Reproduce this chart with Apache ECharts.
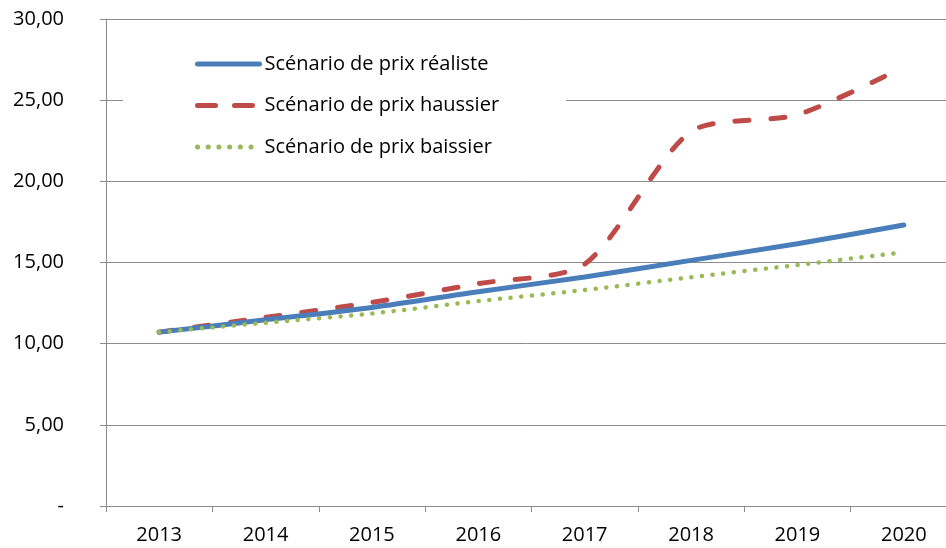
<!DOCTYPE html>
<html>
<head>
<meta charset="utf-8">
<script src="https://cdn.jsdelivr.net/npm/echarts@6/dist/echarts.min.js"></script>
<style>
  html, body { margin: 0; padding: 0; background: #fff; }
  #chart { width: 946px; height: 548px; }
</style>
</head>
<body>
<div id="chart"></div>
<script>
    var years = ['2013', '2014', '2015', '2016', '2017', '2018', '2019', '2020'];
    var realiste = [10.71, 11.47, 12.23, 13.20, 14.11, 15.13, 16.16, 17.31];
    var haussier = [10.71, 11.62, 12.54, 13.70, 14.90, 23.07, 24.10, 27.05];
    var baissier = [10.71, 11.29, 11.86, 12.62, 13.31, 14.09, 14.85, 15.63];
    var yTickLabels = ['-', '5,00', '10,00', '15,00', '20,00', '25,00', '30,00'];
    var seriesNames = ['Scénario de prix réaliste', 'Scénario de prix haussier', 'Scénario de prix baissier'];

    var font = '"Open Sans", "Noto Sans", sans-serif';
    var axisGrey = '#8c8c8c';

    var chart = echarts.init(document.getElementById('chart'));
    var option = {
        animation: false,
        grid: {
            left: 106,
            top: 19,
            width: 851,
            height: 487,
            outerBoundsMode: 'none',
            containLabel: false
        },
        legend: {
            orient: 'vertical',
            left: 123,
            top: 30,
            padding: [24, 67, 10, 72],
            backgroundColor: '#fff',
            itemWidth: 62,
            itemHeight: 18,
            itemGap: 21.5,
            itemStyle: { opacity: 0 },
            lineStyle: { width: 5 },
            textStyle: {
                fontFamily: font,
                fontSize: 20,
                color: '#000'
            },
            data: [
                { name: seriesNames[0] },
                { name: seriesNames[1], lineStyle: { type: [18, 19] } },
                { name: seriesNames[2] }
            ]
        },
        xAxis: {
            type: 'category',
            data: years,
            boundaryGap: true,
            axisLine: { lineStyle: { color: axisGrey, width: 1 } },
            axisTick: { show: true, length: 6, lineStyle: { color: axisGrey } },
            axisLabel: {
                margin: 19,
                fontFamily: font,
                fontSize: 20,
                color: '#000'
            },
            splitLine: { show: false }
        },
        yAxis: {
            type: 'value',
            min: 0,
            max: 30,
            interval: 5,
            axisLine: { show: true, lineStyle: { color: axisGrey, width: 1 } },
            axisTick: { show: true, length: 6, lineStyle: { color: axisGrey } },
            axisLabel: {
                margin: 42,
                fontFamily: font,
                fontSize: 20,
                color: '#000',
                formatter: function (v) {
                    return yTickLabels[Math.round(v / 5)];
                }
            },
            splitLine: { show: true, lineStyle: { color: axisGrey, width: 1 } }
        },
        series: [{
            name: seriesNames[0],
            type: 'line',
            data: realiste,
            symbol: 'none',
            smooth: 0.3,
            z: 3,
            itemStyle: { color: '#4a7ebb' },
            lineStyle: { color: '#4a7ebb', width: 5, cap: 'round' }
        }, {
            name: seriesNames[1],
            type: 'line',
            data: haussier,
            symbol: 'none',
            smooth: 0.25,
            z: 2,
            itemStyle: { color: '#be4b48' },
            lineStyle: { color: '#be4b48', width: 5, type: [14, 22], cap: 'round' }
        }, {
            name: seriesNames[2],
            type: 'line',
            data: baissier,
            symbol: 'none',
            smooth: 0.3,
            z: 4,
            itemStyle: { color: '#98b954' },
            lineStyle: { color: '#98b954', width: 4.5, type: [0.1, 10.6], cap: 'round' }
        }]
    };
    chart.setOption(option);
</script>
</body>
</html>
